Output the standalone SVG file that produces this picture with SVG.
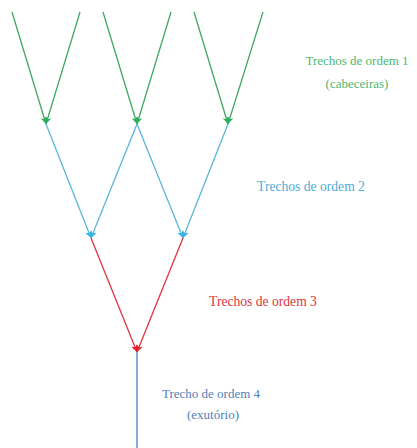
<svg xmlns="http://www.w3.org/2000/svg" width="417" height="448" viewBox="0 0 417 448">
<defs>
<style>
.g{stroke:#3fa866;stroke-width:1.3;fill:none}
.b{stroke:#5cb6dc;stroke-width:1.3;fill:none}
.r{stroke:#e0353d;stroke-width:1.3;fill:none}
.o{stroke:#6a98cc;stroke-width:1.6;fill:none}
text{font-size:13px;text-anchor:middle}
</style>
<marker id="ag" markerWidth="8" markerHeight="8" refX="7" refY="4" orient="auto" markerUnits="userSpaceOnUse"><path d="M0,0.5 L7,4 L0,7.5 L2,4 Z" fill="#2fae5a"/></marker>
<marker id="ab" markerWidth="8" markerHeight="8" refX="7" refY="4" orient="auto" markerUnits="userSpaceOnUse"><path d="M0,0.5 L7,4 L0,7.5 L2,4 Z" fill="#38b4e6"/></marker>
<marker id="ar" markerWidth="8" markerHeight="8" refX="7" refY="4" orient="auto" markerUnits="userSpaceOnUse"><path d="M0,0.5 L7,4 L0,7.5 L2,4 Z" fill="#e0202a"/></marker>
</defs>
<g id="connectors">
<line class="g" x1="12" y1="12" x2="46" y2="124" marker-end="url(#ag)"/>
<line class="g" x1="80" y1="12" x2="46" y2="124" marker-end="url(#ag)"/>
<line class="g" x1="103" y1="12" x2="137" y2="124" marker-end="url(#ag)"/>
<line class="g" x1="171" y1="12" x2="137" y2="124" marker-end="url(#ag)"/>
<line class="g" x1="194" y1="12" x2="228" y2="124" marker-end="url(#ag)"/>
<line class="g" x1="263" y1="12" x2="228" y2="124" marker-end="url(#ag)"/>
<line class="b" x1="46" y1="124" x2="91" y2="238" marker-end="url(#ab)"/>
<line class="b" x1="137" y1="124" x2="91" y2="238" marker-end="url(#ab)"/>
<line class="b" x1="137" y1="124" x2="183" y2="238" marker-end="url(#ab)"/>
<line class="b" x1="228" y1="124" x2="183" y2="238" marker-end="url(#ab)"/>
<line class="r" x1="91" y1="238" x2="137" y2="352" marker-end="url(#ar)"/>
<line class="r" x1="183" y1="238" x2="137" y2="352" marker-end="url(#ar)"/>
<line class="o" x1="137" y1="352" x2="137" y2="448"/>
</g>
<g font-family="'Liberation Serif', 'Times New Roman', 'DejaVu Serif', serif">
<g id="label-ordem1" fill="#4cb872">
<text x="357" y="65">Trechos de ordem 1</text>
<text x="357" y="88">(cabeceiras)</text>
</g>
<g id="label-ordem2" fill="#4badd8">
<text x="311" y="191" style="font-size:13.6px">Trechos de ordem 2</text>
</g>
<g id="label-ordem3" fill="#dc3540">
<text x="263" y="306" style="font-size:13.6px">Trechos de ordem 3</text>
</g>
<g id="label-ordem4" fill="#4f80b8">
<text x="211" y="398">Trecho de ordem 4</text>
<text x="213" y="419">(exutório)</text>
</g>
</g>
</svg>
